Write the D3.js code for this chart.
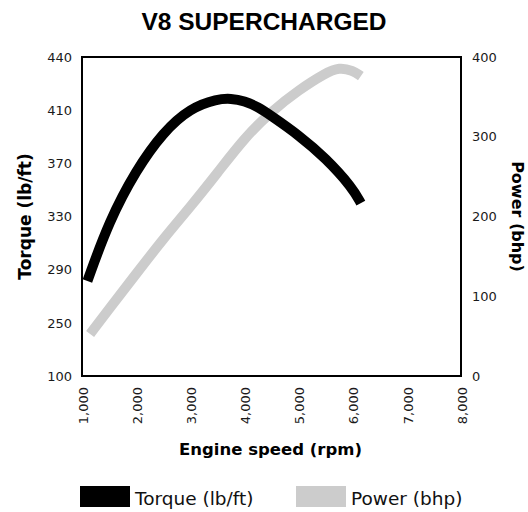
<!DOCTYPE html>
<html>
<head>
<meta charset="utf-8">
<script src="https://cdn.jsdelivr.net/npm/d3@7"></script>
<style>
  body { margin: 0; background: #fff; }
  text { font-family: "DejaVu Sans", sans-serif; }
</style>
</head>
<body>
<script>
// data
var rpm     = [1100, 1500, 2000, 2500, 3000, 3500, 3750, 4000, 4250, 4500, 5000, 5500, 6000, 6150];
var torque  = [281.5, 326.5, 365, 393.5, 411.2, 416.3, 416.6, 415.2, 411.8, 405.6, 391.3, 374, 351.4, 340];
var powRpm  = [1150, 1500, 2000, 2500, 3000, 3500, 4000, 4500, 5000, 5500, 5750, 6000, 6150];
var power   = [52.7, 84, 128, 172, 212, 254.5, 298.5, 332, 358.5, 380, 387, 383, 376];

var xTicks = [1000, 2000, 3000, 4000, 5000, 6000, 7000, 8000];
var torqueTicks = [100, 250, 290, 330, 370, 410, 440];
var powerTicks = [0, 100, 200, 300, 400];

var W = 528, H = 512;
var margin = {top: 57, right: 67, bottom: 136, left: 82};
var width = W - margin.left - margin.right,
    height = H - margin.top - margin.bottom;

var svg = d3.select("body").append("svg")
  .attr("width", W).attr("height", H);

var g = svg.append("g")
  .attr("transform", "translate(" + margin.left + "," + margin.top + ")");

var x = d3.scaleLinear().domain([1000, 8000]).range([0, width]);
// torque axis labels are evenly spaced though the values are not
var yT = d3.scaleLinear()
  .domain(torqueTicks)
  .range(torqueTicks.map(function(d, i){ return height - i * height / (torqueTicks.length - 1); }));
var yP = d3.scaleLinear().domain([0, 400]).range([height, 0]);

// title
svg.append("text")
  .attr("x", W / 2).attr("y", 30)
  .attr("text-anchor", "middle")
  .style("font-family", "'Liberation Sans', Arial, sans-serif")
  .style("font-size", "24.5px")
  .style("font-weight", "bold")
  .text("V8 SUPERCHARGED");

// axes (labels only)
var axL = g.append("g").call(d3.axisLeft(yT).tickValues(torqueTicks).tickSize(0).tickPadding(10));
var axR = g.append("g").attr("transform", "translate(" + width + ",0)")
  .call(d3.axisRight(yP).tickValues(powerTicks).tickSize(0).tickPadding(11));
var axB = g.append("g").attr("transform", "translate(0," + height + ")")
  .call(d3.axisBottom(x).tickValues(xTicks).tickSize(0).tickFormat(d3.format(",")));
[axL, axR, axB].forEach(function(a){
  a.select(".domain").remove();
  a.selectAll("text").style("font-size", "13px").style("font-family", "'DejaVu Sans', sans-serif").attr("fill", "#1a1a1a");
});
axB.selectAll("text")
  .attr("transform", "rotate(-90)")
  .attr("text-anchor", "end")
  .attr("x", -11).attr("y", 0).attr("dy", "0.4em");

// frame
g.append("rect")
  .attr("x", 0).attr("y", 0)
  .attr("width", width).attr("height", height)
  .attr("fill", "none").attr("stroke", "#000").attr("stroke-width", 2);

// lines
var powerLine = d3.line()
  .x(function(d, i){ return x(powRpm[i]); })
  .y(function(d){ return yP(d); })
  .curve(d3.curveBasis);
var torqueLine = d3.line()
  .x(function(d, i){ return x(rpm[i]); })
  .y(function(d){ return yT(d); })
  .curve(d3.curveBasis);

g.append("path").datum(power)
  .attr("d", powerLine)
  .attr("fill", "none").attr("stroke", "#cccccc").attr("stroke-width", 10);
g.append("path").datum(torque)
  .attr("d", torqueLine)
  .attr("fill", "none").attr("stroke", "#000").attr("stroke-width", 10);

// axis titles
svg.append("text")
  .attr("transform", "translate(31," + (margin.top + height / 2) + ") rotate(-90)")
  .attr("text-anchor", "middle")
  .style("font-size", "17px").style("font-weight", "bold")
  .text("Torque (lb/ft)");
svg.append("text")
  .attr("transform", "translate(512," + (margin.top + height / 2) + ") rotate(90)")
  .attr("text-anchor", "middle")
  .style("font-size", "16px").style("font-weight", "bold")
  .text("Power (bhp)");
svg.append("text")
  .attr("x", margin.left + width / 2 - 1).attr("y", 455)
  .attr("text-anchor", "middle")
  .style("font-size", "16.5px").style("font-weight", "bold")
  .text("Engine speed (rpm)");

// legend
var legend = [{name: "Torque (lb/ft)", color: "#000", x: 80}, {name: "Power (bhp)", color: "#cccccc", x: 296}];
var lg = svg.selectAll(".lg").data(legend).enter().append("g")
  .attr("transform", function(d){ return "translate(" + d.x + ",486)"; });
lg.append("rect").attr("width", 50).attr("height", 21).attr("fill", function(d){ return d.color; });
lg.append("text").attr("x", 55).attr("y", 19)
  .style("font-size", "18.5px")
  .attr("fill", "#111")
  .text(function(d){ return d.name; });
</script>
</body>
</html>
